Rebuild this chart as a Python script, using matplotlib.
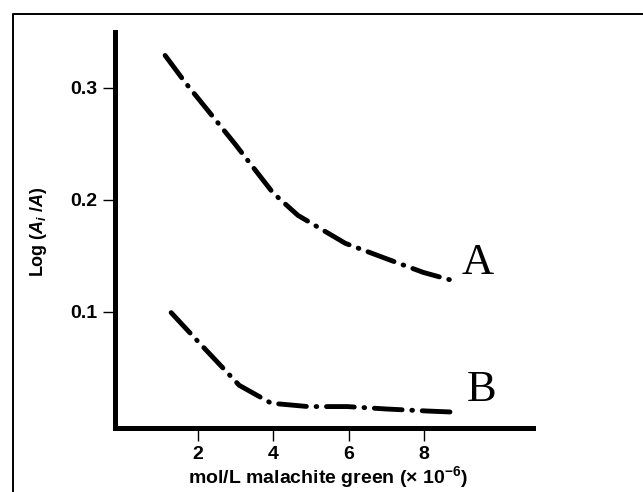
import matplotlib
matplotlib.use("Agg")
import matplotlib.pyplot as plt
from matplotlib.lines import Line2D

# values (x in 1e-6 mol/L, y = log(Ai/A))
conc_a = [1.12, 1.65, 2.95, 3.99, 4.65, 5.91, 7.02, 7.98, 8.73]
log_a = [0.329, 0.305, 0.251, 0.206, 0.186, 0.161, 0.147, 0.135, 0.128]

conc_b = [1.28, 1.86, 3.09, 3.94, 4.92, 5.96, 7.02, 8.10, 8.83]
log_b = [0.099, 0.078, 0.034, 0.018, 0.015, 0.015, 0.0128, 0.011, 0.010]

xticks = [2, 4, 6, 8]
yticks = [0.1, 0.2, 0.3]
curve_names = ["A", "B"]

plt.rcParams["mathtext.fontset"] = "custom"
plt.rcParams["mathtext.rm"] = "Liberation Sans:bold"
plt.rcParams["mathtext.it"] = "Liberation Sans:italic:bold"
plt.rcParams["mathtext.bf"] = "Liberation Sans:bold"
plt.rcParams["lines.scale_dashes"] = False

sans = ["Liberation Sans", "DejaVu Sans"]

fig = plt.figure(figsize=(6.43, 4.92), dpi=100)
ax = fig.add_axes([0.179, 0.130, 0.650, 0.805])

style = dict(color="black", lw=3.5, dashes=(20, 7, 0.5, 7),
             dash_capstyle="round", solid_capstyle="round")
ax.plot(conc_a, log_a, **style)
ax.plot(conc_b, log_b, **style)

ax.text(9.44, 0.143, curve_names[0], family="Liberation Serif", fontsize=32,
        ha="center", va="center")
ax.text(9.52, 0.030, curve_names[1], family="Liberation Serif", fontsize=32,
        ha="center", va="center")

ax.set_xlim(-0.21, 10.9)
ax.set_ylim(-0.0042, 0.350)

for s in ["top", "right"]:
    ax.spines[s].set_visible(False)
for s in ["left", "bottom"]:
    ax.spines[s].set_linewidth(3.6)

ax.set_xticks(xticks)
ax.set_yticks(yticks)
ax.set_xticklabels([str(t) for t in xticks], family=sans, fontweight="bold", fontsize=14)
ax.set_yticklabels([f"{t:.1f}" for t in yticks], family=sans, fontweight="bold", fontsize=14)
ax.tick_params(length=9, width=1, pad=4)

ax.set_xlabel("mol/L malachite green (\u00d7 10$^{-6}$)", family=sans,
              fontweight="bold", fontsize=14)
ax.xaxis.set_label_coords(0.51, -0.092)
ax.set_ylabel("Log ($A_i$ /$A$)", family=sans, fontweight="bold", fontsize=13)
ax.yaxis.label.set_va("center")
ax.yaxis.set_label_coords(-0.184, 0.497)

# outer frame of the figure (left and top edges only)
fig.add_artist(Line2D([0.020, 0.020, 1.0], [0.0, 0.9715, 0.9715],
                      transform=fig.transFigure, color="black", lw=1.4))

fig.savefig("out.png", dpi=100)
